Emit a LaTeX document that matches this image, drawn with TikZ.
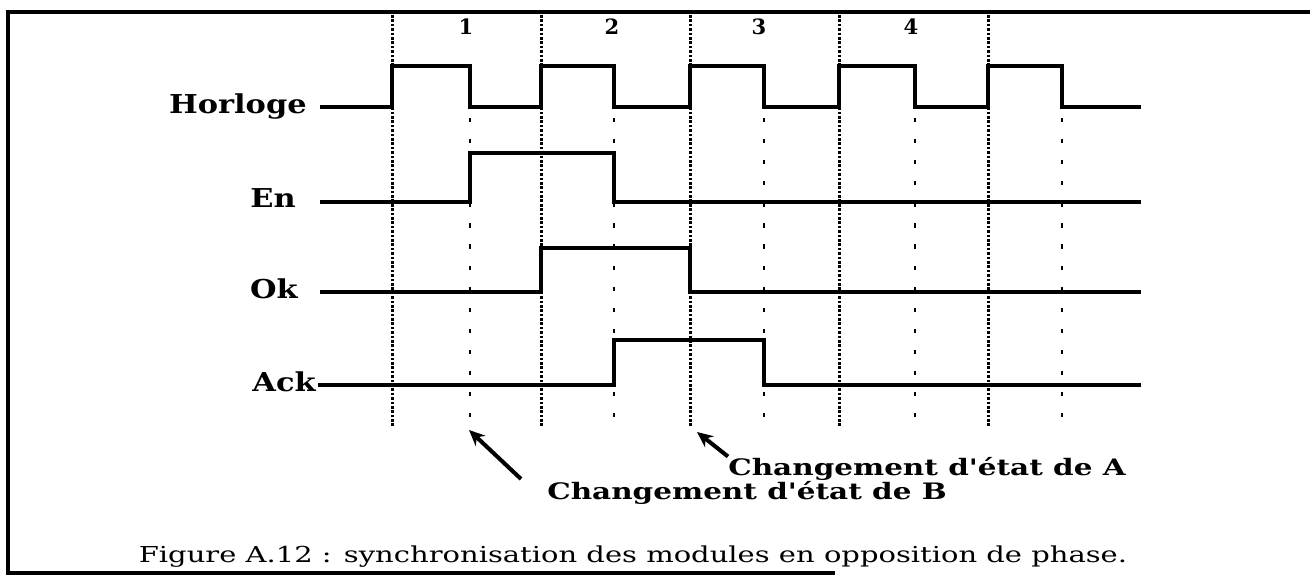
\documentclass[tikz,border=0pt]{standalone}
\usepackage{fontspec}
\setmainfont{DejaVu Serif}
\usepackage{graphicx}
\usepackage{tikz}
\usetikzlibrary{arrows.meta,positioning}
\newcommand{\wider}[2]{\scalebox{#1}[1]{#2}}
\tikzset{
  frm/.style ={line width=2pt},
  sig/.style ={line width=2pt,line join=miter},
  clk/.style ={line width=1.7pt,dash pattern=on 1.5pt off 1pt},
  half/.style={line width=1.5pt,dash pattern=on 2.4pt off 9.6pt},
  lbl/.style ={anchor=base east,inner sep=0pt,font=\bfseries\fontsize{14.8}{17}\selectfont},
  num/.style ={inner sep=0pt,font=\bfseries\fontsize{12}{14}\selectfont},
  note/.style={anchor=base west,inner sep=0pt,font=\bfseries\fontsize{12.9}{15}\selectfont},
  capt/.style={anchor=base,inner sep=0pt,font=\fontsize{12.5}{15}\selectfont},
  ar/.style  ={-{Stealth[length=9pt,width=8pt]},line width=2.3pt},
}
\begin{document}
\begin{tikzpicture}[x=0.02cm,y=-0.02cm]
  \useasboundingbox (0,0) rectangle (1310,577);
  \draw[frm] (1310,12) -- (8,12) -- (8,573) -- (835,573);
  % clock edges
  \foreach \x in {392,541,690,839,988}{\draw[clk] (\x,15) -- (\x,426);}
  \foreach \x in {470,614,764,915,1062}{\draw[half] (\x,118) -- (\x,433);}
  \node[num] (n1) at (466,27){1};
  \node[num] (n2) at (612,27){2};
  \node[num] (n3) at (759,27){3};
  \node[num] (n4) at (911,27){4};
  \node[lbl] (hor) at (307,114){\wider{1.17}{Horloge}};
  \node[lbl] (en)  at (296,208){\wider{1.17}{En}};
  \node[lbl] (ok)  at (298,298){\wider{1.17}{Ok}};
  \node[lbl] (ack) at (316,391){\wider{1.17}{Ack}};
  \draw[sig] (320,107) \foreach \r/\f in {392/470,541/614,690/764,839/915,988/1062}{
    -- (\r,107) -- (\r,66) -- (\f,66) -- (\f,107)} -- (1141,107);
  \draw[sig] (320,202) -- (470,202) -- (470,153) -- (614,153) -- (614,202) -- (1141,202);
  \draw[sig] (320,292) -- (541,292) -- (541,248) -- (690,248) -- (690,292) -- (1141,292);
  \draw[sig] (318,385) -- (614,385) -- (614,340) -- (764,340) -- (764,385) -- (1141,385);
  % state changes
  \node[note] (chA) at (728,475){\wider{1.3}{Changement d\textquotesingle état de A}};
  \node[note] (chB) at (547,499){\wider{1.3}{Changement d\textquotesingle état de B}};
  \coordinate (tipA) at (697,432);
  \coordinate (tipB) at (469,430);
  \coordinate (tailB) at (521,479);
  \draw[ar] (chA.north west) -- (tipA);
  \draw[ar] (tailB) -- (tipB);
  \node[capt] (cap) at (633,562){\wider{1.32}{Figure A.12 : synchronisation des modules en opposition de phase.}};
\end{tikzpicture}
\end{document}
